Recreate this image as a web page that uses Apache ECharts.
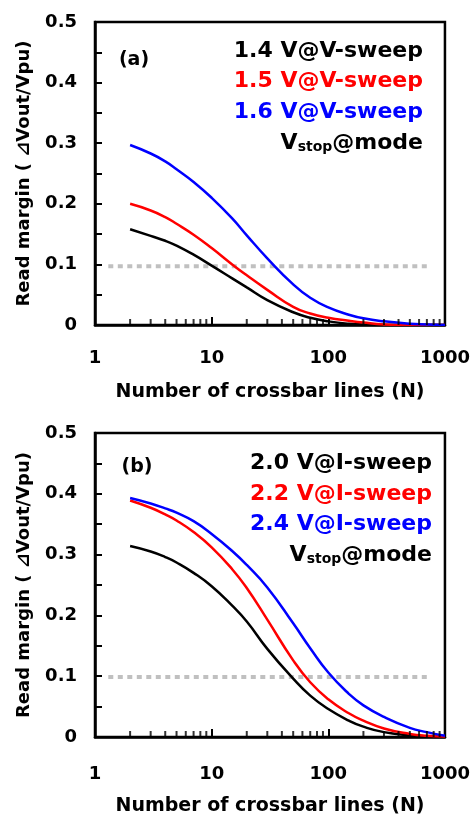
<!DOCTYPE html>
<html>
<head>
<meta charset="utf-8">
<script src="https://cdn.jsdelivr.net/npm/echarts@6/dist/echarts.min.js"></script>
<style>
html,body{margin:0;padding:0;background:#fff;}
#chart{width:473px;height:818px;}
</style>
</head>
<body>
<div id="chart"></div>
<script>
// ---------- data ----------
const N = [2, 3, 4, 5, 7, 10, 15, 20, 30, 50, 70, 100, 150, 200, 300, 500, 700, 1000];

// panel (a): V-sweep
const a14 = [0.158, 0.147, 0.139, 0.131, 0.116, 0.098, 0.077, 0.062, 0.041, 0.021, 0.012, 0.006, 0.002, 0.001, 0, 0, 0, 0];
const a15 = [0.200, 0.189, 0.178, 0.167, 0.149, 0.127, 0.100, 0.082, 0.058, 0.030, 0.019, 0.012, 0.007, 0.004, 0.001, 0, 0, 0];
const a16 = [0.297, 0.283, 0.270, 0.257, 0.236, 0.210, 0.176, 0.148, 0.110, 0.067, 0.045, 0.029, 0.017, 0.011, 0.006, 0.002, 0.001, 0];
const aThreshold = 0.097;

// panel (b): I-sweep
const b20 = [0.314, 0.305, 0.296, 0.287, 0.270, 0.248, 0.216, 0.190, 0.145, 0.096, 0.068, 0.046, 0.027, 0.017, 0.008, 0.003, 0.001, 0];
const b22 = [0.389, 0.377, 0.366, 0.356, 0.337, 0.312, 0.276, 0.245, 0.193, 0.126, 0.090, 0.062, 0.039, 0.027, 0.014, 0.005, 0.002, 0.001];
const b24 = [0.393, 0.384, 0.376, 0.369, 0.355, 0.334, 0.306, 0.283, 0.246, 0.187, 0.146, 0.106, 0.071, 0.052, 0.033, 0.015, 0.008, 0.002];
const bThreshold = 0.0985;

const thresholdN = [1.3, 730];
const xTicks = [1, 10, 100, 1000];
const yTicks = [0, 0.1, 0.2, 0.3, 0.4, 0.5];
const minorN = [2,3,4,5,6,7,8,9,20,30,40,50,60,70,80,90,200,300,400,500,600,700,800,900];

const legendA = ['1.4 V@V-sweep', '1.5 V@V-sweep', '1.6 V@V-sweep'];
const legendB = ['2.0 V@I-sweep', '2.2 V@I-sweep', '2.4 V@I-sweep'];
const colors = ['#000000', '#ff0000', '#0000ff'];

// ---------- chart ----------
const FONT = 'DejaVu Sans';
const chart = echarts.init(document.getElementById('chart'), null, {renderer: 'canvas'});

function xAxis(gi, labelMargin, nameGap) {
  return {
    type: 'log', logBase: 10, min: xTicks[0], max: xTicks[xTicks.length - 1], gridIndex: gi,
    axisLine: {show: true, onZero: false, lineStyle: {color: '#000', width: 2.5}},
    axisTick: {show: true, inside: true, length: 8, lineStyle: {color: '#000', width: 2}},
    axisLabel: {show: true, fontFamily: FONT, fontWeight: 'bold', fontSize: 18, color: '#000', margin: labelMargin,
      formatter: v => String(Math.round(v))},
    splitLine: {show: false},
    name: 'Number of crossbar lines (N)', nameLocation: 'middle', nameGap: nameGap,
    nameTextStyle: {fontFamily: FONT, fontWeight: 'bold', fontSize: 19, color: '#000'}
  };
}
function yAxis(gi) {
  return {
    type: 'value', min: yTicks[0], max: yTicks[yTicks.length - 1], interval: 0.1, gridIndex: gi,
    axisLine: {show: true, lineStyle: {color: '#000', width: 2.5}},
    axisTick: {show: true, inside: true, length: 7, lineStyle: {color: '#000', width: 2}},
    minorTick: {show: true, splitNumber: 2, length: 7, lineStyle: {color: '#000', width: 2}},
    axisLabel: {fontFamily: FONT, fontWeight: 'bold', fontSize: 18, color: '#000', margin: 18,
      formatter: v => v === 0 ? '0' : v.toFixed(1)},
    splitLine: {show: false}, minorSplitLine: {show: false},
    name: 'Read margin ( \u22BFVout/Vpu)', nameLocation: 'middle', nameGap: 62, nameRotate: 90,
    nameTextStyle: {fontFamily: FONT, fontWeight: 'bold', fontSize: 18, color: '#000'}
  };
}
function curve(gi, ys, color) {
  return {
    type: 'line', xAxisIndex: gi, yAxisIndex: gi, data: N.map((n, i) => [n, ys[i]]),
    showSymbol: false, smooth: 0.5, lineStyle: {color: color, width: 2.5}, z: 3, animation: false
  };
}
function threshold(gi, v) {
  return {
    type: 'line', xAxisIndex: gi, yAxisIndex: gi, data: thresholdN.map(n => [n, v]),
    showSymbol: false, lineStyle: {color: '#c0c0c0', width: 4, type: [5, 4.5], cap: 'butt'}, z: 2, animation: false
  };
}
function minorTicks(gi) {
  return {
    type: 'scatter', xAxisIndex: gi, yAxisIndex: gi, data: minorN.map(n => [n, 0]),
    symbol: 'rect', symbolSize: [2, 6], symbolOffset: [0, -3], clip: false,
    itemStyle: {color: '#000'}, z: 4, silent: true, animation: false
  };
}
function legendText(x, y, text, color) {
  return {type: 'text', x: x, y: y, z: 10,
    style: {text: text, fill: color, font: 'bold 22px "DejaVu Sans"', align: 'right', verticalAlign: 'middle'}};
}
function vstop(x, yTop) {
  return {type: 'text', x: x, y: yTop, z: 10,
    style: {
      text: '{v|V}{s|stop}{v|@mode}', align: 'right', verticalAlign: 'top',
      rich: {
        v: {fontFamily: FONT, fontWeight: 'bold', fontSize: 22, lineHeight: 22, color: '#000', verticalAlign: 'top'},
        s: {fontFamily: FONT, fontWeight: 'bold', fontSize: 14, lineHeight: 14, color: '#000', verticalAlign: 'bottom', padding: [13, 0, 0, 0]}
      }
    }};
}
function panelLabel(x, y, t) {
  return {type: 'text', x: x, y: y, z: 10,
    style: {text: t, fill: '#000', font: 'bold 19px "DejaVu Sans"', align: 'center', verticalAlign: 'middle'}};
}

const option = {
  backgroundColor: '#fff',
  animation: false,
  grid: [
    {left: 95, top: 22, width: 350, height: 303, show: true, borderColor: '#000', borderWidth: 2.5, backgroundColor: 'transparent'},
    {left: 95, top: 433, width: 354, height: 304, show: true, borderColor: '#000', borderWidth: 2.5, backgroundColor: 'transparent'}
  ],
  xAxis: [xAxis(0, 24, 58), xAxis(1, 28, 60)],
  yAxis: [yAxis(0), yAxis(1)],
  series: [
    threshold(0, aThreshold),
    curve(0, a14, colors[0]), curve(0, a15, colors[1]), curve(0, a16, colors[2]),
    minorTicks(0),
    threshold(1, bThreshold),
    curve(1, b20, colors[0]), curve(1, b22, colors[1]), curve(1, b24, colors[2]),
    minorTicks(1)
  ],
  graphic: [
    panelLabel(134, 60, '(a)'),
    legendText(423, 51, legendA[0], colors[0]),
    legendText(423, 81, legendA[1], colors[1]),
    legendText(423, 112, legendA[2], colors[2]),
    vstop(423, 132),
    panelLabel(137, 467, '(b)'),
    legendText(432, 463, legendB[0], colors[0]),
    legendText(432, 494, legendB[1], colors[1]),
    legendText(432, 524, legendB[2], colors[2]),
    vstop(432, 544)
  ]
};
chart.setOption(option);
</script>
</body>
</html>
